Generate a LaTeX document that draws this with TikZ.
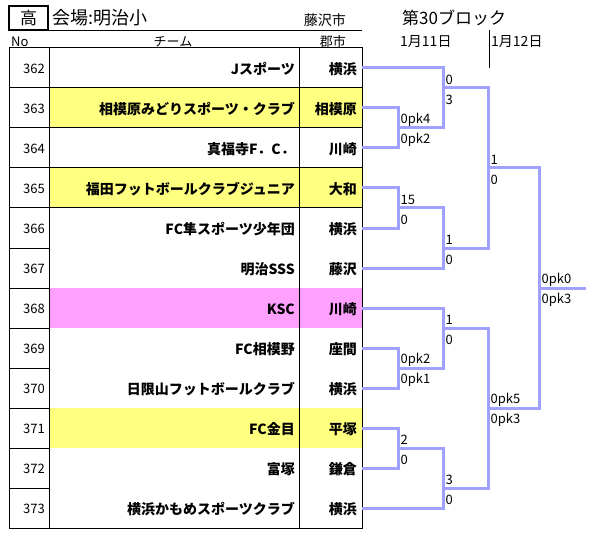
\documentclass[tikz,border=0pt]{standalone}
\usepackage{fontspec}
\setmainfont{Noto Sans CJK JP}
\definecolor{yel}{RGB}{255,255,128}
\definecolor{pnk}{RGB}{255,160,255}
\definecolor{brc}{RGB}{160,160,255}
\begin{document}
\begin{tikzpicture}[x=1pt,y=-1pt,
  br/.style={draw=brc,line width=3pt},
  tbl/.style={line width=1pt},
  num/.style={anchor=east,font=\fontsize{13}{13}\selectfont,inner sep=0pt},
  team/.style={anchor=east,font=\bfseries\fontsize{14}{14}\selectfont,inner sep=0pt},
  hdr/.style={font=\fontsize{13}{13}\selectfont,inner sep=0pt},
  lab/.style={anchor=west,font=\fontsize{13}{13}\selectfont,inner sep=0pt}]
\useasboundingbox[fill=white] (0,0) rectangle (594,540);
% rows
\foreach \n/\t/\c/\f [count=\i from 0] in {
  362/Jスポーツ/横浜/white,
  363/相模原みどりスポーツ・クラブ/相模原/yel,
  364/真福寺F．C．/川崎/white,
  365/福田フットボールクラブジュニア/大和/yel,
  366/FC隼スポーツ少年団/横浜/white,
  367/明治SSS/藤沢/white,
  368/KSC/川崎/pnk,
  369/FC相模野/座間/white,
  370/日限山フットボールクラブ/横浜/white,
  371/FC金目/平塚/yel,
  372/富塚/鎌倉/white,
  373/横浜かもめスポーツクラブ/横浜/white}{
  \pgfmathsetmacro{\top}{48+40*\i}
  \fill[\f] (49,\top) rectangle (362,\top+40);
  \node[num] (n\n) at (45,\top+21) {\n};
  \node[team] (tm\n) at (295,\top+21) {\t};
  \node[team] (c\n) at (357,\top+21) {\c};
  \coordinate (t\n) at (362,\top+20);
  \draw[tbl] (9,\top+40) -- (362,\top+40);
}
\draw[tbl] (9,48) rectangle (362,528);
\draw[tbl] (49,48) -- (49,528);
\draw[tbl] (299,48) -- (299,528);
% header
\node[draw,line width=1.5pt,minimum width=39pt,minimum height=24pt,inner sep=0pt,
  font=\fontsize{17}{17}\selectfont] (ko) at (28.5,18) {高};
\node[anchor=west,inner sep=0pt,font=\fontsize{18}{18}\selectfont] (title) at (52,18) {会場:明治小};
\draw[tbl] (9,30.5) -- (362,30.5);
\node[anchor=east,inner sep=0pt,font=\fontsize{14}{14}\selectfont] (city) at (346,20) {藤沢市};
\node[hdr,anchor=west] (hno) at (11,42) {No};
\node[hdr] (hteam) at (173,42) {チーム};
\node[hdr,anchor=east] (hcity) at (346,42) {郡市};
\node[anchor=west,inner sep=0pt,font=\fontsize{17}{17}\selectfont] (blk) at (402,18) {第30ブロック};
\node[hdr,anchor=west,font=\fontsize{14}{14}\selectfont] (d1) at (400,42) {1月11日};
\node[hdr,anchor=west,font=\fontsize{14}{14}\selectfont] (d2) at (491,42) {1月12日};
\coordinate (vt) at (489,30);
\coordinate (vb) at (489,68);
\draw[tbl] (vt) -- (vb);
% bracket coordinates
\coordinate (mA) at (398,128);
\coordinate (mB) at (398,208);
\coordinate (mC) at (398,368);
\coordinate (mD) at (398,448);
\coordinate (r2a) at (443,88);
\coordinate (r2b) at (443,248);
\coordinate (r2c) at (443,328);
\coordinate (r2d) at (443,488);
\coordinate (sf1) at (488,168);
\coordinate (sf2) at (488,408);
\coordinate (fin) at (539,288);
\coordinate (champ) at (586,288);
% bracket lines
\draw[br] (t363) -| (mA) |- (t364);
\draw[br] (t362) -| (r2a) |- (mA);
\draw[br] (t365) -| (mB) |- (t366);
\draw[br] (t367) -| (r2b) |- (mB);
\draw[br] (r2a) -| (sf1) |- (r2b);
\draw[br] (t369) -| (mC) |- (t370);
\draw[br] (t368) -| (r2c) |- (mC);
\draw[br] (t371) -| (mD) |- (t372);
\draw[br] (t373) -| (r2d) |- (mD);
\draw[br] (r2c) -| (sf2) |- (r2d);
\draw[br] (sf1) -| (fin) |- (sf2);
\draw[br] (fin) -- (champ);
% scores
\foreach \p/\a/\b in {mA/0pk4/0pk2, mB/15/0, mC/0pk2/0pk1, mD/2/0,
  r2a/0/3, r2b/1/0, r2c/1/0, r2d/3/0, sf1/1/0, sf2/0pk5/0pk3, fin/0pk0/0pk3}{
  \node[lab] (\p a) at ([xshift=2.5pt,yshift=8pt]\p) {\a};
  \node[lab] (\p b) at ([xshift=2.5pt,yshift=-12pt]\p) {\b};
}
\end{tikzpicture}
\end{document}
